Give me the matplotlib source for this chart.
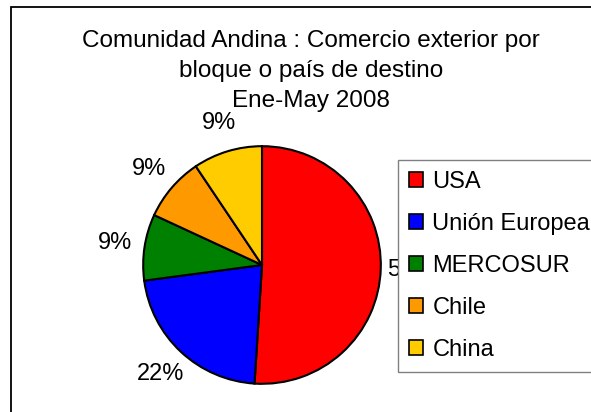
import matplotlib
matplotlib.use("Agg")
import matplotlib.pyplot as plt
from matplotlib.patches import Rectangle

plt.rcParams['font.family'] = ['Liberation Sans', 'DejaVu Sans']

# Datos: participacion por destino (%), Ene-May 2008
destinos = ["USA", "Unión Europea", "MERCOSUR", "Chile", "China"]
participacion = [51.0, 21.9, 9.0, 8.7, 9.4]
colores = ["#FF0000", "#0000FF", "#008000", "#FF9900", "#FFCC00"]

titulo = "Comunidad Andina : Comercio exterior por\nbloque o país de destino\nEne-May 2008"

fig = plt.figure(figsize=(5.91, 4.12), dpi=100)
fig.patch.set_facecolor("white")

# marco del grafico (se corta por la derecha y abajo)
fig.add_artist(Rectangle((11 / 591, -0.1), 1.2, 1.1 - 7 / 412, transform=fig.transFigure,
                         fill=False, edgecolor="black", linewidth=1.3))

ax = fig.add_axes([142 / 591, 27 / 412, 240 / 591, 240 / 412])
wedges, texts, autotexts = ax.pie(
    participacion, colors=colores, startangle=90, counterclock=False,
    autopct="%.0f%%", pctdistance=1.25,
    wedgeprops=dict(edgecolor="black", linewidth=1.5),
    textprops=dict(fontsize=17, color="black"))
ax.set_xlim(-1.01, 1.01)
ax.set_ylim(-1.01, 1.01)
ax.axis("off")

fig.text(311 / 591, 1 - 71 / 412, titulo, ha="center", va="center", fontsize=17.5,
         linespacing=1.5)

leg = ax.legend(wedges, destinos, loc="upper left",
                bbox_to_anchor=(398 / 591, 1 - 160 / 412), bbox_transform=fig.transFigure,
                borderaxespad=0, fancybox=False, framealpha=1, edgecolor="#808080",
                fontsize=17, handlelength=0.6, handleheight=0.6, handletextpad=0.4,
                labelspacing=0.85, borderpad=0.46)
leg.get_frame().set_linewidth(1.0)
for h in leg.legend_handles:
    h.set_linewidth(1.2)

plt.savefig("out.png", dpi=100)
plt.close()
